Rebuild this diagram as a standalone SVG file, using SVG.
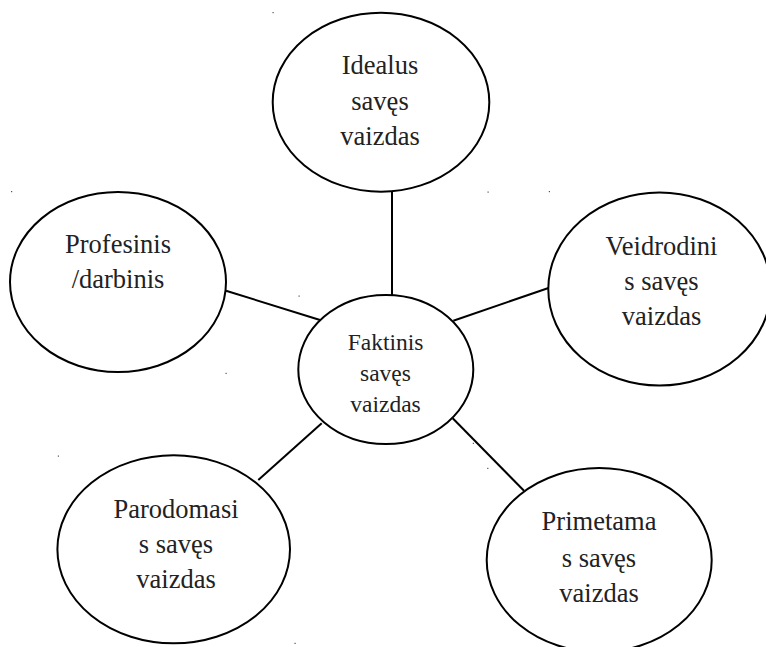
<svg xmlns="http://www.w3.org/2000/svg" width="766" height="647" viewBox="0 0 766 647">
<style>
.n ellipse{fill:#fff;stroke:#000;stroke-width:2}
.c line{stroke:#000;stroke-width:2}
text{font-family:"Liberation Serif","Times New Roman",serif;fill:#222;text-anchor:middle}
.big{font-size:26.5px}
.sm{font-size:23.5px}
.dot{fill:#555}
</style>
<rect width="766" height="647" fill="#fff"/>
<g id="connectors" class="c">
<line x1="392" y1="191" x2="392" y2="296"/>
<line x1="226" y1="290.7" x2="320" y2="320"/>
<line x1="548.5" y1="288" x2="453.3" y2="320.7"/>
<line x1="258.3" y1="480" x2="321.7" y2="423.3"/>
<line x1="524" y1="490.7" x2="452.7" y2="418.3"/>
</g>
<g id="node-idealus" class="n">
<ellipse cx="381" cy="102.2" rx="108.3" ry="89.5"/>
<text class="big" x="380" y="74">Idealus</text>
<text class="big" x="380" y="109.5">savęs</text>
<text class="big" x="380" y="144.5">vaizdas</text>
</g>
<g id="node-profesinis" class="n">
<ellipse cx="118" cy="282" rx="108" ry="90"/>
<text class="big" x="118" y="253">Profesinis</text>
<text class="big" x="118" y="288">/darbinis</text>
</g>
<g id="node-veidrodinis" class="n">
<ellipse cx="659.5" cy="289" rx="111.2" ry="96.5"/>
<text class="big" x="661.5" y="255">Veidrodini</text>
<text class="big" x="661.5" y="290">s savęs</text>
<text class="big" x="661.5" y="325">vaizdas</text>
</g>
<g id="node-faktinis" class="n">
<ellipse cx="385.8" cy="369.5" rx="87.5" ry="74.5"/>
<text class="sm" x="385.5" y="350">Faktinis</text>
<text class="sm" x="385.5" y="381">savęs</text>
<text class="sm" x="385.5" y="412">vaizdas</text>
</g>
<g id="node-parodomasis" class="n">
<ellipse cx="173.7" cy="549.3" rx="116.3" ry="94"/>
<text class="big" x="176" y="518">Parodomasi</text>
<text class="big" x="176" y="553">s savęs</text>
<text class="big" x="176" y="588">vaizdas</text>
</g>
<g id="node-primetamas" class="n">
<ellipse cx="599.2" cy="560" rx="112.5" ry="92"/>
<text class="big" x="599" y="530">Primetama</text>
<text class="big" x="599" y="566.5">s savęs</text>
<text class="big" x="599" y="601.5">vaizdas</text>
</g>
<g id="specks" class="dot">
<rect x="272.5" y="12" width="1.2" height="1.2"/>
<rect x="487.5" y="191.5" width="1.2" height="1.2"/>
<rect x="11" y="191" width="1.2" height="1.2"/>
<rect x="298.5" y="295.5" width="1.2" height="1.2"/>
<rect x="548.8" y="191" width="1.2" height="1.2"/>
<rect x="225.5" y="372.8" width="1.2" height="1.2"/>
<rect x="472.8" y="442.8" width="1.2" height="1.2"/>
<rect x="57.8" y="455.5" width="1.2" height="1.2"/>
<rect x="294.5" y="642.8" width="1.2" height="1.2"/>
<rect x="487.2" y="467.8" width="1.2" height="1.2"/>
</g>
</svg>
